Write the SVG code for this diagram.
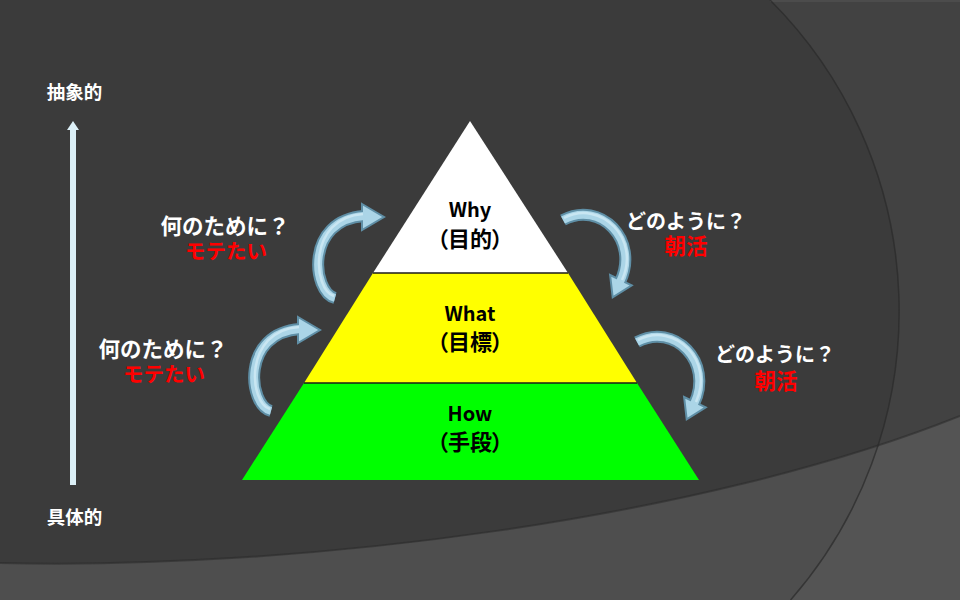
<svg xmlns="http://www.w3.org/2000/svg" width="960" height="600" viewBox="0 0 960 600">
<defs>
<style>
.jp{font-family:"Noto Sans CJK JP","Noto Sans",sans-serif;font-weight:bold;text-anchor:middle}
.w{fill:#ffffff}
.r{fill:#ff0000}
.k{fill:#000000}
.palt{font-feature-settings:"palt"}
.so{fill:none;stroke:#5f8fa6;stroke-width:12;stroke-linecap:butt}
.si{fill:none;stroke:#abd5e7;stroke-width:8;stroke-linecap:butt}
.hl{fill:none;stroke:#c9e6f2;stroke-width:2.5;stroke-linecap:butt}
.hd{fill:#abd5e7;stroke:#5f8fa6;stroke-width:2;stroke-linejoin:miter}
.sep{stroke:#1a1a1a;stroke-width:1.3}
.axis{fill:#dcf0f7}
</style>
<g id="arrowA">
<path class="so" d="M335,298 C312,292 305,220 364,216"/>
<polygon class="hd" points="362,204 384,217 362,230"/>
<path class="si" d="M335,298 C312,292 305,220 364,216"/>
<path class="hl" d="M334,296 C313,290 307,218 363,214"/>
</g>
<g id="arrowB">
<path class="so" d="M563,220 C600,200 640,240 620,282"/>
<polygon class="hd" points="631.7,285.4 612.7,297.3 610.1,275.0"/>
<path class="si" d="M563,220 C600,200 640,240 620,282"/>
<path class="hl" d="M564,218 C601,199 641,239 622,280"/>
</g>
</defs>

<g id="background">
<rect width="960" height="600" fill="#3b3b3b"/>
<path d="M0,563 C300,570 700,520 960,416 V600 H0 Z" fill="#4e4e4e"/>
<path d="M770,0 H960 V600 H790.6 A439,439 0 0 0 770,0 Z" fill="#ffffff" fill-opacity="0.04"/>
<rect x="770" y="0" width="190" height="2" fill="#4c4c4c"/>
<path d="M790.6,600 A439,439 0 0 0 770,0" fill="none" stroke="#2a2a2a" stroke-width="1.5" stroke-opacity="0.7"/>
<path d="M0,563 C300,570 700,520 960,416" fill="none" stroke="#2a2a2a" stroke-width="2" stroke-opacity="0.55"/>
</g>

<g id="pyramid">
<g id="tier-why">
<polygon points="470,121 568,273 373,273" fill="#ffffff"/>
<text class="jp k" x="470" y="217" font-size="20">Why</text>
<text class="jp k palt" x="470" y="247" font-size="22">（目的）</text>
</g>
<g id="tier-what">
<polygon points="373,273 568,273 637,383 304,383" fill="#ffff00"/>
<text class="jp k" x="470" y="321" font-size="20">What</text>
<text class="jp k palt" x="470" y="350" font-size="22">（目標）</text>
</g>
<g id="tier-how">
<polygon points="304,383 637,383 699,480 242,480" fill="#00ff00"/>
<text class="jp k" x="470" y="421" font-size="20">How</text>
<text class="jp k palt" x="470" y="450" font-size="22">（手段）</text>
</g>
<line class="sep" x1="373" y1="273" x2="568" y2="273"/>
<line class="sep" x1="304" y1="383" x2="637" y2="383"/>
</g>

<g id="label-abstract">
<text class="jp w" x="74.5" y="99" font-size="18.5">抽象的</text>
</g>
<g id="label-concrete">
<text class="jp w" x="74.5" y="524" font-size="18.5">具体的</text>
</g>

<g id="label-why-1">
<text class="jp w" x="225" y="234" font-size="21.5">何のために？</text>
<text class="jp r" x="226" y="259" font-size="20.5">モテたい</text>
</g>
<g id="label-why-2">
<text class="jp w" x="163" y="357" font-size="21.5">何のために？</text>
<text class="jp r" x="164" y="382" font-size="20.5">モテたい</text>
</g>
<g id="label-how-1">
<text class="jp w" x="686" y="229" font-size="20">どのように？</text>
<text class="jp r" x="686" y="254" font-size="21.5">朝活</text>
</g>
<g id="label-how-2">
<text class="jp w" x="775" y="362" font-size="20">どのように？</text>
<text class="jp r" x="776" y="389" font-size="21.5">朝活</text>
</g>

<g id="connectors">
<g id="axis-arrow">
<rect class="axis" x="70" y="129" width="6" height="356"/>
<polygon class="axis" points="67,130 73,121 79,130"/>
</g>
<use href="#arrowA"/>
<use href="#arrowA" transform="translate(-64,113)"/>
<use href="#arrowB"/>
<use href="#arrowB" transform="translate(74,122)"/>
</g>
</svg>
